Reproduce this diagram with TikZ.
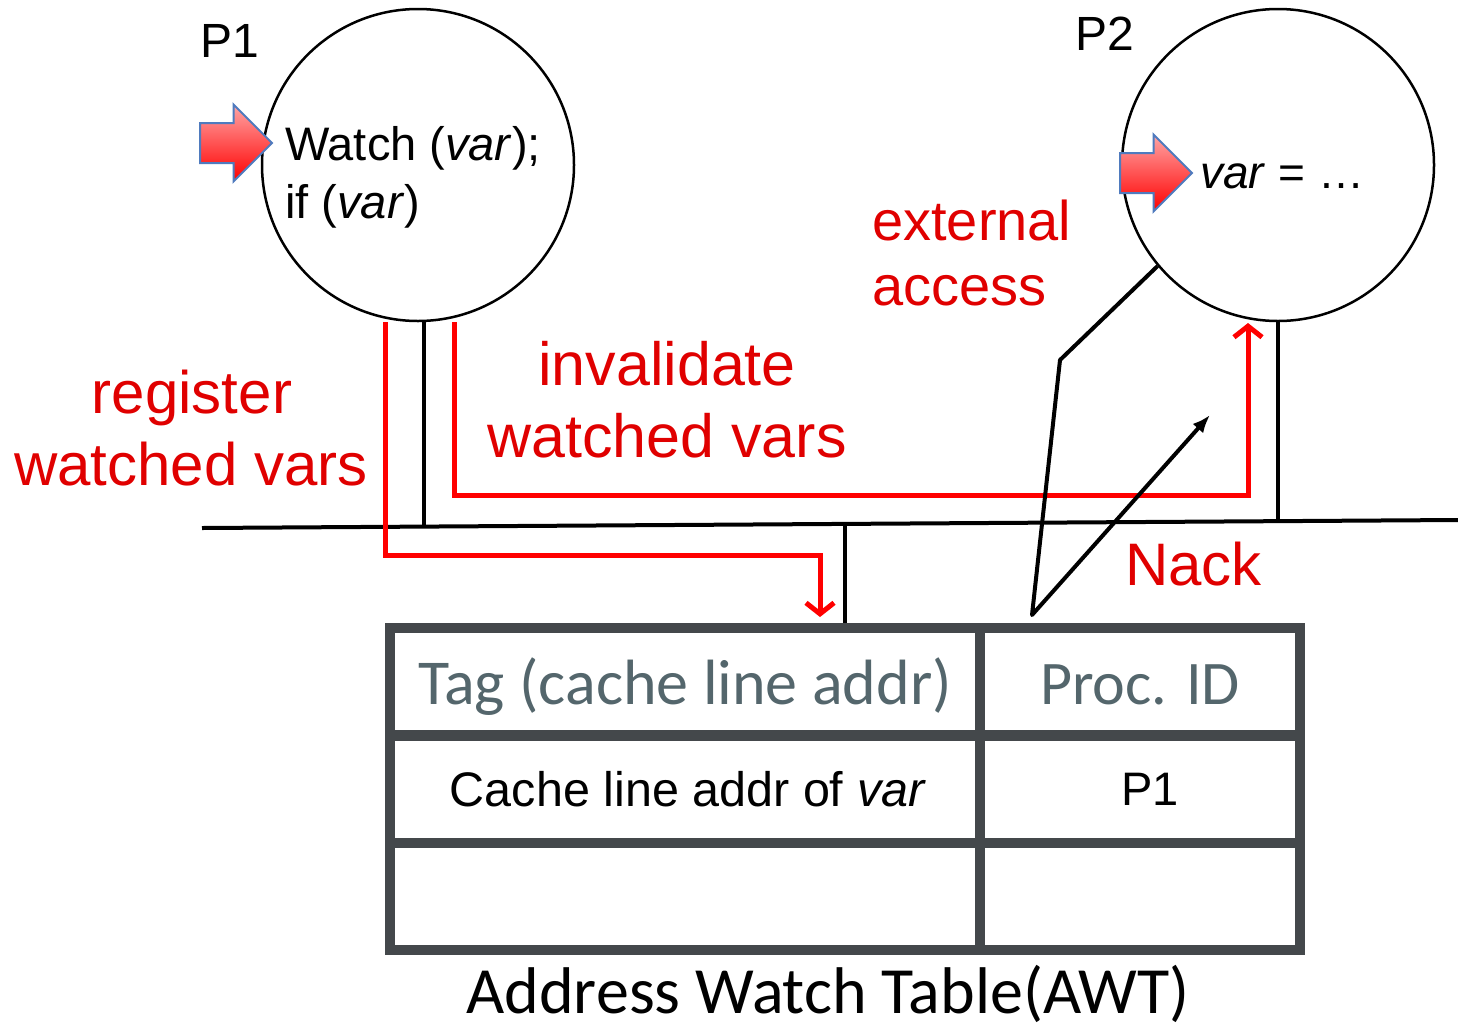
\documentclass[tikz,border=0pt]{standalone}
\usepackage{fontspec}
\setmainfont{Liberation Sans}
\newfontfamily\calibri{Carlito}
\usetikzlibrary{shapes.arrows,arrows.meta}
\definecolor{textred}{RGB}{224,0,0}
\definecolor{wirered}{RGB}{255,0,0}
\definecolor{tablegray}{RGB}{68,72,75}
\definecolor{headgray}{RGB}{84,102,108}
\definecolor{arrowblue}{RGB}{79,123,190}
\newcommand{\pxsize}[1]{\fontsize{#1}{#1}\selectfont}

\begin{document}
\begin{tikzpicture}[x=1pt,y=-1pt,
    proc/.style={draw, circle, line width=2.5pt, minimum size=312pt, inner sep=0pt},
    pointer/.style={single arrow, draw=arrowblue, line width=2pt,
      top color=red!35!white, bottom color=red, inner xsep=0pt, inner ysep=19pt,
      minimum height=72pt, single arrow head extend=18.5pt},
    cell/.style={draw=tablegray, line width=10pt, minimum height=107pt, inner sep=0pt},
    heading/.style={text height=46pt, text depth=0pt, text=headgray},
    wire/.style={line width=4pt, line join=round},
    redwire/.style={draw=wirered, line width=5pt},
    lbl/.style={inner sep=0pt, anchor=base},
    redlbl/.style={lbl, text=textred, font=\pxsize{60}}]
  \useasboundingbox (0,0) rectangle (1458,1031);

  % processors
  \node[proc] (p1) at (418,165) {};
  \node[proc] (p2) at (1278,165) {};
  \node[lbl, font=\pxsize{48}] (p1 name) at (230,57) {P1};
  \node[lbl, font=\pxsize{48}] (p2 name) at (1105,50) {P2};
  \node[lbl, anchor=base west, font=\pxsize{47}] (watch) at (285,160) {Watch (\textit{var});};
  \node[lbl, anchor=base west, font=\pxsize{47}] (cond) at (285,218) {if (\textit{var})};
  \node[lbl, anchor=base west, font=\pxsize{46}] (store) at (1200,188) {\textit{var} = …};
  \node[pointer] (p1 pointer) at (226,143) {};
  \node[pointer] (p2 pointer) at (1146,173) {};

  % address watch table
  \node[cell, heading, font=\calibri\pxsize{64}, minimum width=590pt] (tag) at (685,681.5) {Tag (cache line addr)};
  \node[cell, heading, font=\calibri\pxsize{62}, minimum width=320pt] (procid) at (1140,681.5) {Proc. ID};
  \node[cell, minimum width=590pt, font=\pxsize{48.5}] (addr) at (685,789) {\hspace*{6pt}Cache line addr of \textit{var}};
  \node[cell, minimum width=320pt, font=\pxsize{47}] (owner) at (1140,789) {\hspace*{20pt}P1};
  \node[cell, minimum width=590pt] (free tag) at (685,896.5) {};
  \node[cell, minimum width=320pt] (free owner) at (1140,896.5) {};
  \node[lbl, font=\calibri\pxsize{66}] (awt) at (828,1013) {Address Watch Table(AWT)};

  % bus
  \coordinate (bus west) at (202,528);
  \coordinate (bus east) at (1458,520);
  \coordinate (p1 tap) at (424,526);
  \coordinate (p2 tap) at (1278,522);
  \coordinate (awt tap) at (845,526);
  \draw[wire] (bus west) -- (bus east);
  \draw[wire] (p1.south -| p1 tap) -- (p1 tap);
  \draw[wire] (p2.south) -- (p2 tap);
  \draw[wire] (awt tap) -- (awt tap |- tag.north);

  % register / invalidate
  \coordinate (reg corner) at (385,555);
  \coordinate (reg end) at (820,617);
  \coordinate (inv corner) at (454,495);
  \coordinate (inv end) at (1248,323);
  \draw[redwire, -{Straight Barb[length=11pt,width=28pt]}]
    (p1.south -| reg corner) -- (reg corner) -- (reg corner -| reg end) -- (reg end);
  \draw[redwire, -{Straight Barb[length=11pt,width=28pt]}]
    (p1.south -| inv corner) -- (inv corner) -| (inv end);
  \node[redlbl] (reg1) at (192,413) {register};
  \node[redlbl] (reg2) at (191,485) {watched vars};
  \node[redlbl, font=\pxsize{61}] (inv1) at (667,385) {invalidate};
  \node[redlbl, font=\pxsize{61}] (inv2) at (667,457) {watched vars};

  % external access and nack
  \coordinate (ext bend) at (1060,360);
  \coordinate (ext low) at (1032,615);
  \coordinate (nack tip) at (1210,415);
  \draw[wire, -{Latex[length=18pt,width=14pt]}]
    (p2.220) -- (ext bend) -- (ext low) -- (nack tip);
  \node[redlbl, anchor=base west, font=\pxsize{56}] (ext1) at (872,240) {external};
  \node[redlbl, anchor=base west, font=\pxsize{56}] (ext2) at (872,305) {access};
  \node[redlbl, anchor=base west] (nack) at (1125,585) {Nack};
\end{tikzpicture}
\end{document}
